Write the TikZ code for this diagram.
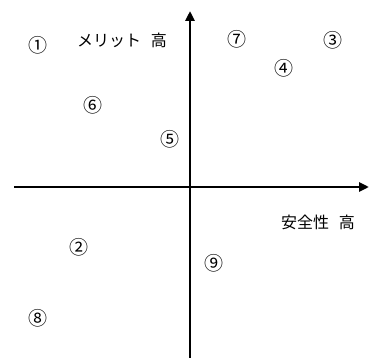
\documentclass[tikz,border=0pt]{standalone}
\usepackage{fontspec}
\setmainfont{Noto Sans CJK JP}
\usetikzlibrary{arrows.meta}
\begin{document}
\begin{tikzpicture}[x=1pt,y=-1pt,
  axis/.style={line width=2.8pt,-{Triangle[length=10pt,width=9pt]}},
  lbl/.style={inner sep=0pt,font=\fontsize{16}{18}\selectfont},
  num/.style={inner sep=0pt,font=\fontsize{19}{21}\selectfont}]
\useasboundingbox (0,0) rectangle (377,358);
\coordinate (vb) at (190,358);
\coordinate (vt) at (190,11);
\coordinate (hl) at (14,187);
\coordinate (hr) at (369,187);
\draw[axis] (vb) -- (vt);
\draw[axis] (hl) -- (hr);
\node[lbl] (merit) at (122,40) {メリット\hspace{0.6em}高};
\node[lbl] (safe) at (318,222) {安全性\hspace{0.6em}高};
\node[num] (n1) at (38,45) {①};
\node[num] (n2) at (79,247) {②};
\node[num] (n3) at (333,40) {③};
\node[num] (n4) at (284,68) {④};
\node[num] (n5) at (170,139) {⑤};
\node[num] (n6) at (93,105) {⑥};
\node[num] (n7) at (237,39) {⑦};
\node[num] (n8) at (38,318) {⑧};
\node[num] (n9) at (214,263) {⑨};
\end{tikzpicture}
\end{document}
